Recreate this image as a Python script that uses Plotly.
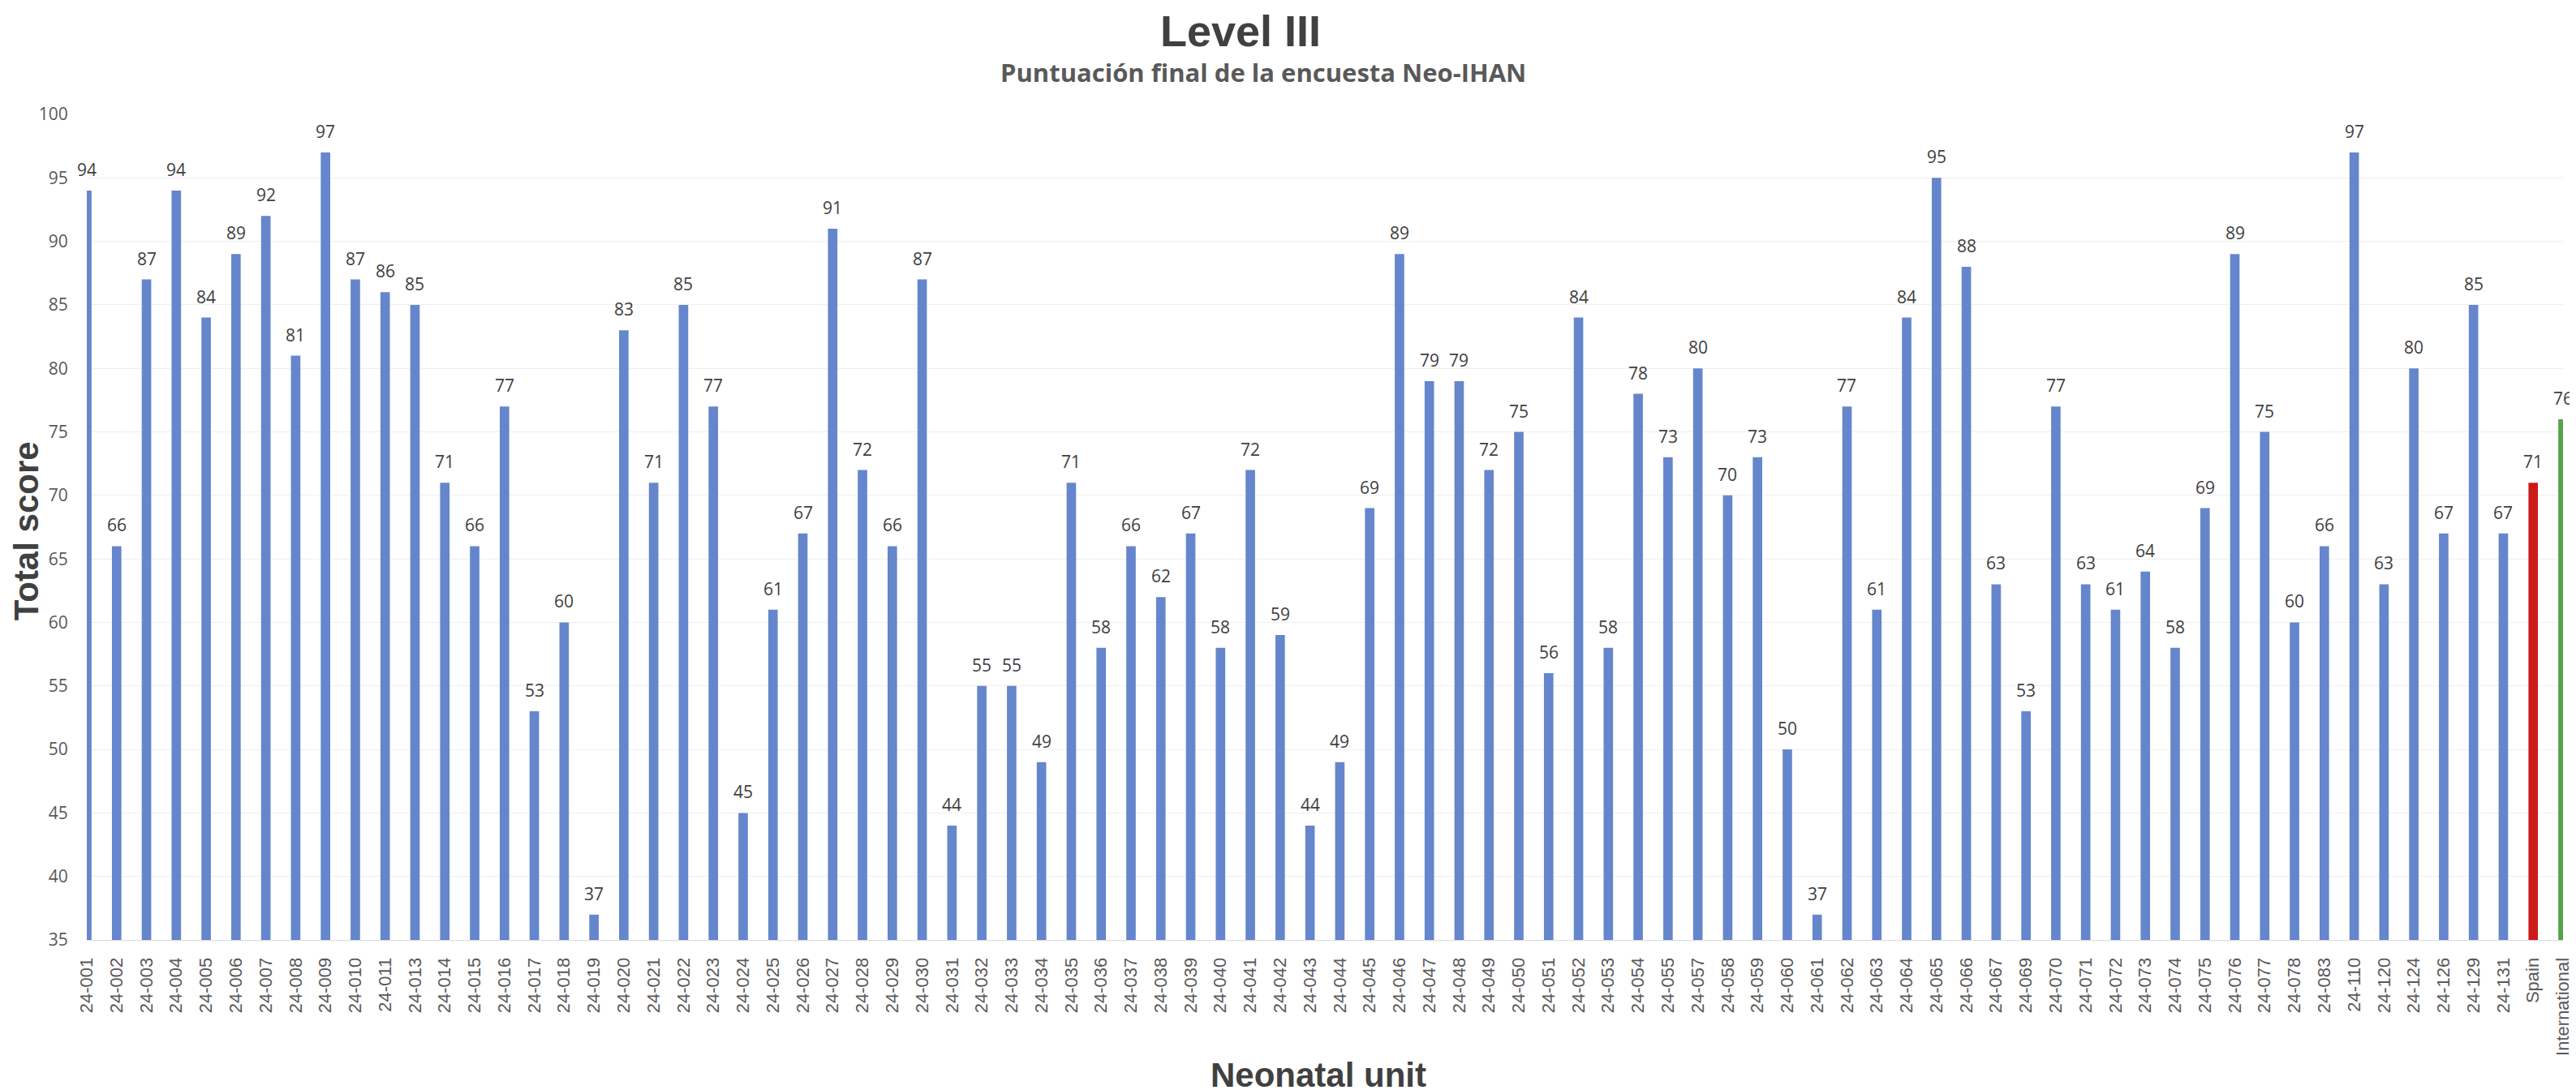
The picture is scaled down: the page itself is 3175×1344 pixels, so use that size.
import plotly.graph_objects as go

units = (
    [f"24-{i:03d}" for i in range(1, 12)]
    + [f"24-{i:03d}" for i in range(13, 56)]
    + [f"24-{i:03d}" for i in range(57, 68)]
    + [f"24-{i:03d}" for i in range(69, 79)]
    + ["24-083", "24-110", "24-120", "24-124", "24-126", "24-129", "24-131"]
    + ["Spain", "International"]
)

scores = [
    94, 66, 87, 94, 84, 89, 92, 81, 97, 87, 86,          # 001-011
    85, 71, 66, 77, 53, 60, 37, 83, 71, 85, 77, 45,      # 013-024
    61, 67, 91, 72, 66, 87, 44, 55, 55, 49, 71, 58,      # 025-036
    66, 62, 67, 58, 72, 59, 44, 49, 69, 89, 79, 79,      # 037-048
    72, 75, 56, 84, 58, 78, 73,                          # 049-055
    80, 70, 73, 50, 37, 77, 61, 84, 95, 88, 63,          # 057-067
    53, 77, 63, 61, 64, 58, 69, 89, 75, 60,              # 069-078
    66, 97, 63, 80, 67, 85, 67,                          # 083-131
    71, 76,                                              # Spain, International
]

y_ticks = list(range(35, 101, 5))

BLUE = "#6586cc"
RED = "#cc1a1a"
GREEN = "#52a447"
colors = [RED if u == "Spain" else GREEN if u == "International" else BLUE for u in units]

fig = go.Figure()
fig.add_trace(go.Bar(
    x=units, y=scores, marker=dict(color=colors, line=dict(width=0)),
    hoverinfo="x+y", showlegend=False,
))

annotations = []
for u, s in zip(units, scores):
    annotations.append(dict(
        x=u, y=s, xref="x", yref="y", text=str(s), showarrow=False,
        yanchor="bottom", yshift=10,
        font=dict(family="Open Sans", size=21, color="#404040"),
    ))

annotations += [
    dict(text="<b>Level III</b>", xref="paper", yref="paper", x=0.466, y=1.101,
         xanchor="center", yanchor="middle", showarrow=False,
         font=dict(family="Liberation Sans", size=54, color="#404040")),
    dict(text="<b>Puntuación final de la encuesta Neo-IHAN</b>", xref="paper", yref="paper",
         x=0.475, y=1.051, xanchor="center", yanchor="middle", showarrow=False,
         font=dict(family="Open Sans", size=31, color="#595959")),
    dict(text="<b>Neonatal unit</b>", xref="paper", yref="paper", x=0.4975, y=-0.164,
         xanchor="center", yanchor="middle", showarrow=False,
         font=dict(family="Liberation Sans", size=42, color="#404040")),
    dict(text="<b>Total score</b>", xref="paper", yref="paper", x=-0.0245, y=0.495,
         xanchor="center", yanchor="middle", showarrow=False, textangle=-90,
         font=dict(family="Liberation Sans", size=42, color="#404040")),
]

fig.update_layout(
    width=3175, height=1344,
    margin=dict(l=99, r=17, t=133, b=193),
    paper_bgcolor="white", plot_bgcolor="white",
    bargap=0.683,
    annotations=annotations,
)
fig.update_xaxes(
    type="category", range=[0, len(units) - 1], tickangle=-90,
    tickfont=dict(family="Liberation Sans", size=22, color="#595959"),
    showline=True, linecolor="#d9d9d9", linewidth=1,
    ticks="outside", ticklen=12, tickcolor="rgba(0,0,0,0)",
    showgrid=False,
)
fig.update_yaxes(
    range=[35, 100], tickvals=y_ticks,
    tickfont=dict(family="Open Sans", size=21, color="#595959"),
    showgrid=True, gridcolor="#efefef", gridwidth=1,
    zeroline=False, showline=False,
    ticks="outside", ticklen=18, tickcolor="rgba(0,0,0,0)",
)

fig.write_html("out.html")
